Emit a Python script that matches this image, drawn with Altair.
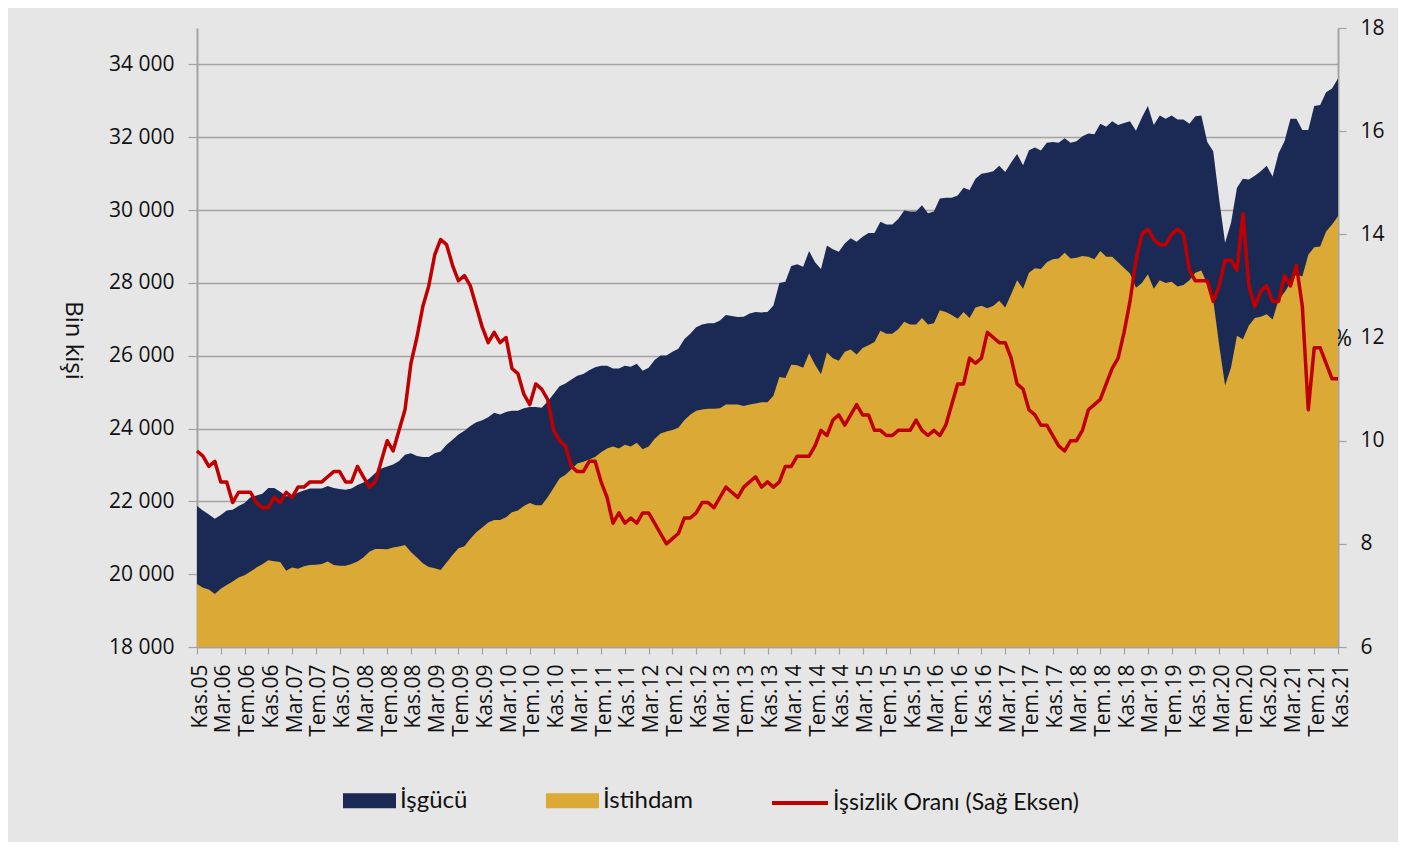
import altair as alt
import pandas as pd

# ---- x-axis tick labels (every 4th month, Kas.05 ... Kas.21) ----
tick_labels = ["Kas.05", "Mar.06", "Tem.06", "Kas.06", "Mar.07", "Tem.07", "Kas.07",
               "Mar.08", "Tem.08", "Kas.08", "Mar.09", "Tem.09", "Kas.09", "Mar.10",
               "Tem.10", "Kas.10", "Mar.11", "Tem.11", "Kas.11", "Mar.12", "Tem.12",
               "Kas.12", "Mar.13", "Tem.13", "Kas.13", "Mar.14", "Tem.14", "Kas.14",
               "Mar.15", "Tem.15", "Kas.15", "Mar.16", "Tem.16", "Kas.16", "Mar.17",
               "Tem.17", "Kas.17", "Mar.18", "Tem.18", "Kas.18", "Mar.19", "Tem.19",
               "Kas.19", "Mar.20", "Tem.20", "Kas.20", "Mar.21", "Tem.21", "Kas.21"]

# ---- İşgücü (bin kişi), monthly Kas.05 .. Kas.21 ----
isgucu = [21870, 21750, 21640, 21520, 21625, 21750, 21770, 21870, 21955, 22110,
          22160, 22210, 22370, 22370, 22265, 22140, 22160, 22245, 22300, 22350,
          22350, 22350, 22420, 22370, 22340, 22320, 22350, 22450, 22520, 22630,
          22780, 22905, 22960, 23010, 23110, 23280, 23320, 23245, 23215, 23215,
          23320, 23370, 23556, 23690, 23835, 23940, 24070, 24175, 24225, 24310,
          24435, 24385, 24455, 24490, 24490, 24560, 24590, 24590, 24570, 24745,
          24950, 25160, 25240, 25345, 25450, 25500, 25600, 25680, 25725, 25725,
          25650, 25650, 25725, 25695, 25780, 25590, 25670, 25880, 26005, 26005,
          26110, 26190, 26450, 26600, 26780, 26860, 26890, 26890, 26965, 27120,
          27090, 27060, 27070, 27160, 27200, 27190, 27200, 27380, 28000, 28030,
          28465, 28515, 28440, 28875, 28565, 28380, 29030, 28925, 28855, 29080,
          29225, 29130, 29270, 29370, 29370, 29680, 29600, 29600, 29755, 29990,
          29960, 29960, 30135, 29910, 29960, 30320, 30340, 30340, 30400, 30610,
          30550, 30860, 30995, 31025, 31065, 31220, 31045, 31305, 31540, 31230,
          31645, 31720, 31635, 31850, 31870, 31850, 31975, 31850, 31890, 32025,
          32100, 32080, 32370, 32285, 32440, 32335, 32390, 32440, 32180, 32545,
          32855, 32335, 32595, 32510, 32595, 32490, 32490, 32370, 32575, 32595,
          31870, 31615, 30300, 29100, 29650, 30610, 30860, 30840, 30945, 31065,
          31220, 30920, 31560, 31890, 32510, 32510, 32200, 32200, 32855, 32885,
          33235, 33340, 33610]

# ---- İstihdam (bin kişi) ----
istihdam = [19730, 19630, 19580, 19455, 19600, 19700, 19800, 19910, 19970, 20075,
            20180, 20270, 20385, 20355, 20335, 20095, 20180, 20150, 20220, 20250,
            20260, 20280, 20345, 20250, 20230, 20230, 20280, 20345, 20460, 20615,
            20690, 20690, 20685, 20735, 20760, 20800, 20610, 20455, 20300, 20200,
            20165, 20115, 20320, 20530, 20715, 20770, 20975, 21150, 21285, 21420,
            21490, 21490, 21565, 21700, 21750, 21875, 21955, 21895, 21895, 22110,
            22370, 22630, 22730, 22885, 23040, 23090, 23150, 23215, 23350, 23450,
            23505, 23450, 23555, 23505, 23610, 23430, 23505, 23710, 23865, 23920,
            23960, 24020, 24225, 24380, 24490, 24520, 24540, 24540, 24560, 24660,
            24660, 24660, 24620, 24660, 24690, 24720, 24720, 24900, 25415, 25385,
            25755, 25735, 25670, 26065, 25755, 25490, 26085, 25930, 25860, 26110,
            26170, 26035, 26210, 26290, 26375, 26685, 26600, 26600, 26725, 26935,
            26860, 26860, 27035, 26860, 26890, 27245, 27200, 27120, 27015, 27200,
            27035, 27325, 27370, 27305, 27370, 27510, 27325, 27690, 28070, 27840,
            28275, 28400, 28380, 28565, 28650, 28670, 28825, 28670, 28690, 28740,
            28720, 28650, 28875, 28720, 28720, 28565, 28410, 28255, 27865, 28000,
            28235, 27840, 28070, 28000, 28030, 27900, 27945, 28070, 28275, 28340,
            27970, 27535, 26295, 25180, 25675, 26550, 26450, 26830, 27035, 27070,
            27140, 26995, 27535, 27740, 28000, 28235, 28175, 28775, 28980, 29000,
            29410, 29600, 29830]

# ---- İşsizlik oranı (%) ----
oran = [9.8, 9.7, 9.5, 9.6, 9.2, 9.2, 8.8, 9.0, 9.0, 9.0,
        8.8, 8.7, 8.7, 8.9, 8.8, 9.0, 8.9, 9.1, 9.1, 9.2,
        9.2, 9.2, 9.3, 9.4, 9.4, 9.2, 9.2, 9.5, 9.3, 9.1,
        9.2, 9.6, 10.0, 9.8, 10.2, 10.6, 11.5, 12.0, 12.6, 13.0,
        13.6, 13.9, 13.8, 13.4, 13.1, 13.2, 13.0, 12.6, 12.2, 11.9,
        12.1, 11.9, 12.0, 11.4, 11.3, 10.9, 10.7, 11.1, 11.0, 10.8,
        10.2, 10.0, 9.9, 9.5, 9.4, 9.4, 9.6, 9.6, 9.2, 8.9,
        8.4, 8.6, 8.4, 8.5, 8.4, 8.6, 8.6, 8.4, 8.2, 8.0,
        8.1, 8.2, 8.5, 8.5, 8.6, 8.8, 8.8, 8.7, 8.9, 9.1,
        9.0, 8.9, 9.1, 9.2, 9.3, 9.1, 9.2, 9.1, 9.2, 9.5,
        9.5, 9.7, 9.7, 9.7, 9.9, 10.2, 10.1, 10.4, 10.5, 10.3,
        10.5, 10.7, 10.5, 10.5, 10.2, 10.2, 10.1, 10.1, 10.2, 10.2,
        10.2, 10.4, 10.2, 10.1, 10.2, 10.1, 10.3, 10.7, 11.1, 11.1,
        11.6, 11.5, 11.6, 12.1, 12.0, 11.9, 11.9, 11.6, 11.1, 11.0,
        10.6, 10.5, 10.3, 10.3, 10.1, 9.9, 9.8, 10.0, 10.0, 10.2,
        10.6, 10.7, 10.8, 11.1, 11.4, 11.6, 12.1, 12.7, 13.5, 14.0,
        14.1, 13.9, 13.8, 13.8, 14.0, 14.1, 14.0, 13.3, 13.1, 13.1,
        13.1, 12.7, 13.0, 13.5, 13.5, 13.3, 14.4, 13.0, 12.6, 12.9,
        13.0, 12.7, 12.7, 13.2, 13.0, 13.4, 12.6, 10.6, 11.8, 11.8,
        11.5, 11.2, 11.2]

series_names = ["İşgücü", "İstihdam", "İşsizlik Oranı (Sağ Eksen)"]

n = len(isgucu)
df = pd.DataFrame({"ay": list(range(n)), "isgucu": isgucu,
                   "istihdam": istihdam, "oran": oran})
df["s_isgucu"] = series_names[0]
df["s_istihdam"] = series_names[1]
df["s_oran"] = series_names[2]

NAVY = "#1A2A55"
GOLD = "#DBA936"
RED = "#C00000"
BG = "#E6E6E6"
GRID = "#A3A3A3"
TXT = "#111111"
FONT = "Open Sans"
LFONT = "Lato"

label_js = "[" + ",".join("'" + t + "'" for t in tick_labels) + "]"

x_enc = alt.X(
    "ay:Q",
    scale=alt.Scale(domain=[0, n - 1], nice=False, zero=False),
    axis=alt.Axis(
        values=list(range(0, n, 4)),
        labelExpr=label_js + "[round(datum.value/4)]",
        labelAngle=-90, labelFont=FONT, labelFontSize=21, labelColor=TXT,
        labelPadding=10, labelOffset=3, labelOverlap=False, labelFlush=False,
        tickColor=GRID, tickSize=7, tickWidth=1.2,
        domainColor=GRID, domainWidth=1.5, grid=False, title=None,
    ),
)

y_left_axis = alt.Axis(
    orient="left", values=list(range(18000, 34001, 2000)),
    labelExpr="replace(format(datum.value, ','), ',', ' ')",
    labelFont=FONT, labelFontSize=21, labelColor=TXT, labelPadding=14,
    tickColor=GRID, tickSize=9, tickWidth=1.2,
    domainColor=GRID, domainWidth=2,
    grid=True, gridColor=GRID, gridWidth=1.3,
    title="Bin kişi", titleAngle=90, titleX=-125, titleY=312,
    titleAlign="center", titleBaseline="middle", titleFont=FONT,
    titleFontSize=24, titleFontWeight="normal", titleColor=TXT,
)
y_left_scale = alt.Scale(domain=[18000, 35000], nice=False, zero=False)

fill_scale = alt.Scale(domain=series_names[:2], range=[NAVY, GOLD])
fill_legend = alt.Legend(
    title=None, orient="none", legendX=146, legendY=746, direction="horizontal",
    symbolType="M-1,-0.283H1V0.283H-1Z", symbolSize=2809, symbolStrokeWidth=0,
    symbolOpacity=1, labelFont=LFONT, labelFontSize=24, labelColor=TXT,
    labelOffset=4, columnPadding=78, padding=0, labelLimit=500,
)

base = alt.Chart(df)

area_isgucu = base.mark_area(opacity=1, clip=True).encode(
    x=x_enc,
    y=alt.Y("isgucu:Q", scale=y_left_scale, axis=y_left_axis),
    fill=alt.Fill("s_isgucu:N", scale=fill_scale, legend=fill_legend),
)
area_istihdam = base.mark_area(opacity=1, clip=True).encode(
    x=x_enc,
    y=alt.Y("istihdam:Q", scale=y_left_scale, axis=y_left_axis),
    fill=alt.Fill("s_istihdam:N", scale=fill_scale, legend=fill_legend),
)

line = base.mark_line(strokeWidth=3.5, strokeJoin="round").encode(
    x=x_enc,
    y=alt.Y(
        "oran:Q",
        scale=alt.Scale(domain=[6, 18], nice=False, zero=False),
        axis=alt.Axis(
            orient="right", values=list(range(6, 19, 2)),
            labelFont=FONT, labelFontSize=21, labelColor=TXT, labelPadding=14,
            tickColor=GRID, tickSize=8, tickWidth=1.2,
            domainColor=GRID, domainWidth=2, grid=False,
            title="%", titleAngle=0, titleX=4, titleY=310,
            titleAlign="center", titleBaseline="middle", titleFont=FONT,
            titleFontSize=23, titleFontWeight="normal", titleColor=TXT,
        ),
    ),
    stroke=alt.Stroke(
        "s_oran:N",
        scale=alt.Scale(domain=series_names[2:], range=[RED]),
        legend=alt.Legend(
            title=None, orient="none", legendX=573, legendY=745,
            symbolType="stroke", symbolSize=3136, symbolStrokeWidth=4,
            labelFont=LFONT, labelFontSize=23, labelColor=TXT,
            labelOffset=3, padding=0, labelLimit=500,
        ),
    ),
)

chart = (
    alt.layer(alt.layer(area_isgucu, area_istihdam), line)
    .resolve_scale(y="independent")
    .properties(
        width=1141, height=619,
        autosize=alt.AutoSizeParams(type="none"),
        padding={"left": 189, "top": 20, "right": 60, "bottom": 195},
        background=BG,
    )
    .configure_view(stroke=None)
)

chart.save("out.html", embed_options={"renderer": "svg", "actions": False})
